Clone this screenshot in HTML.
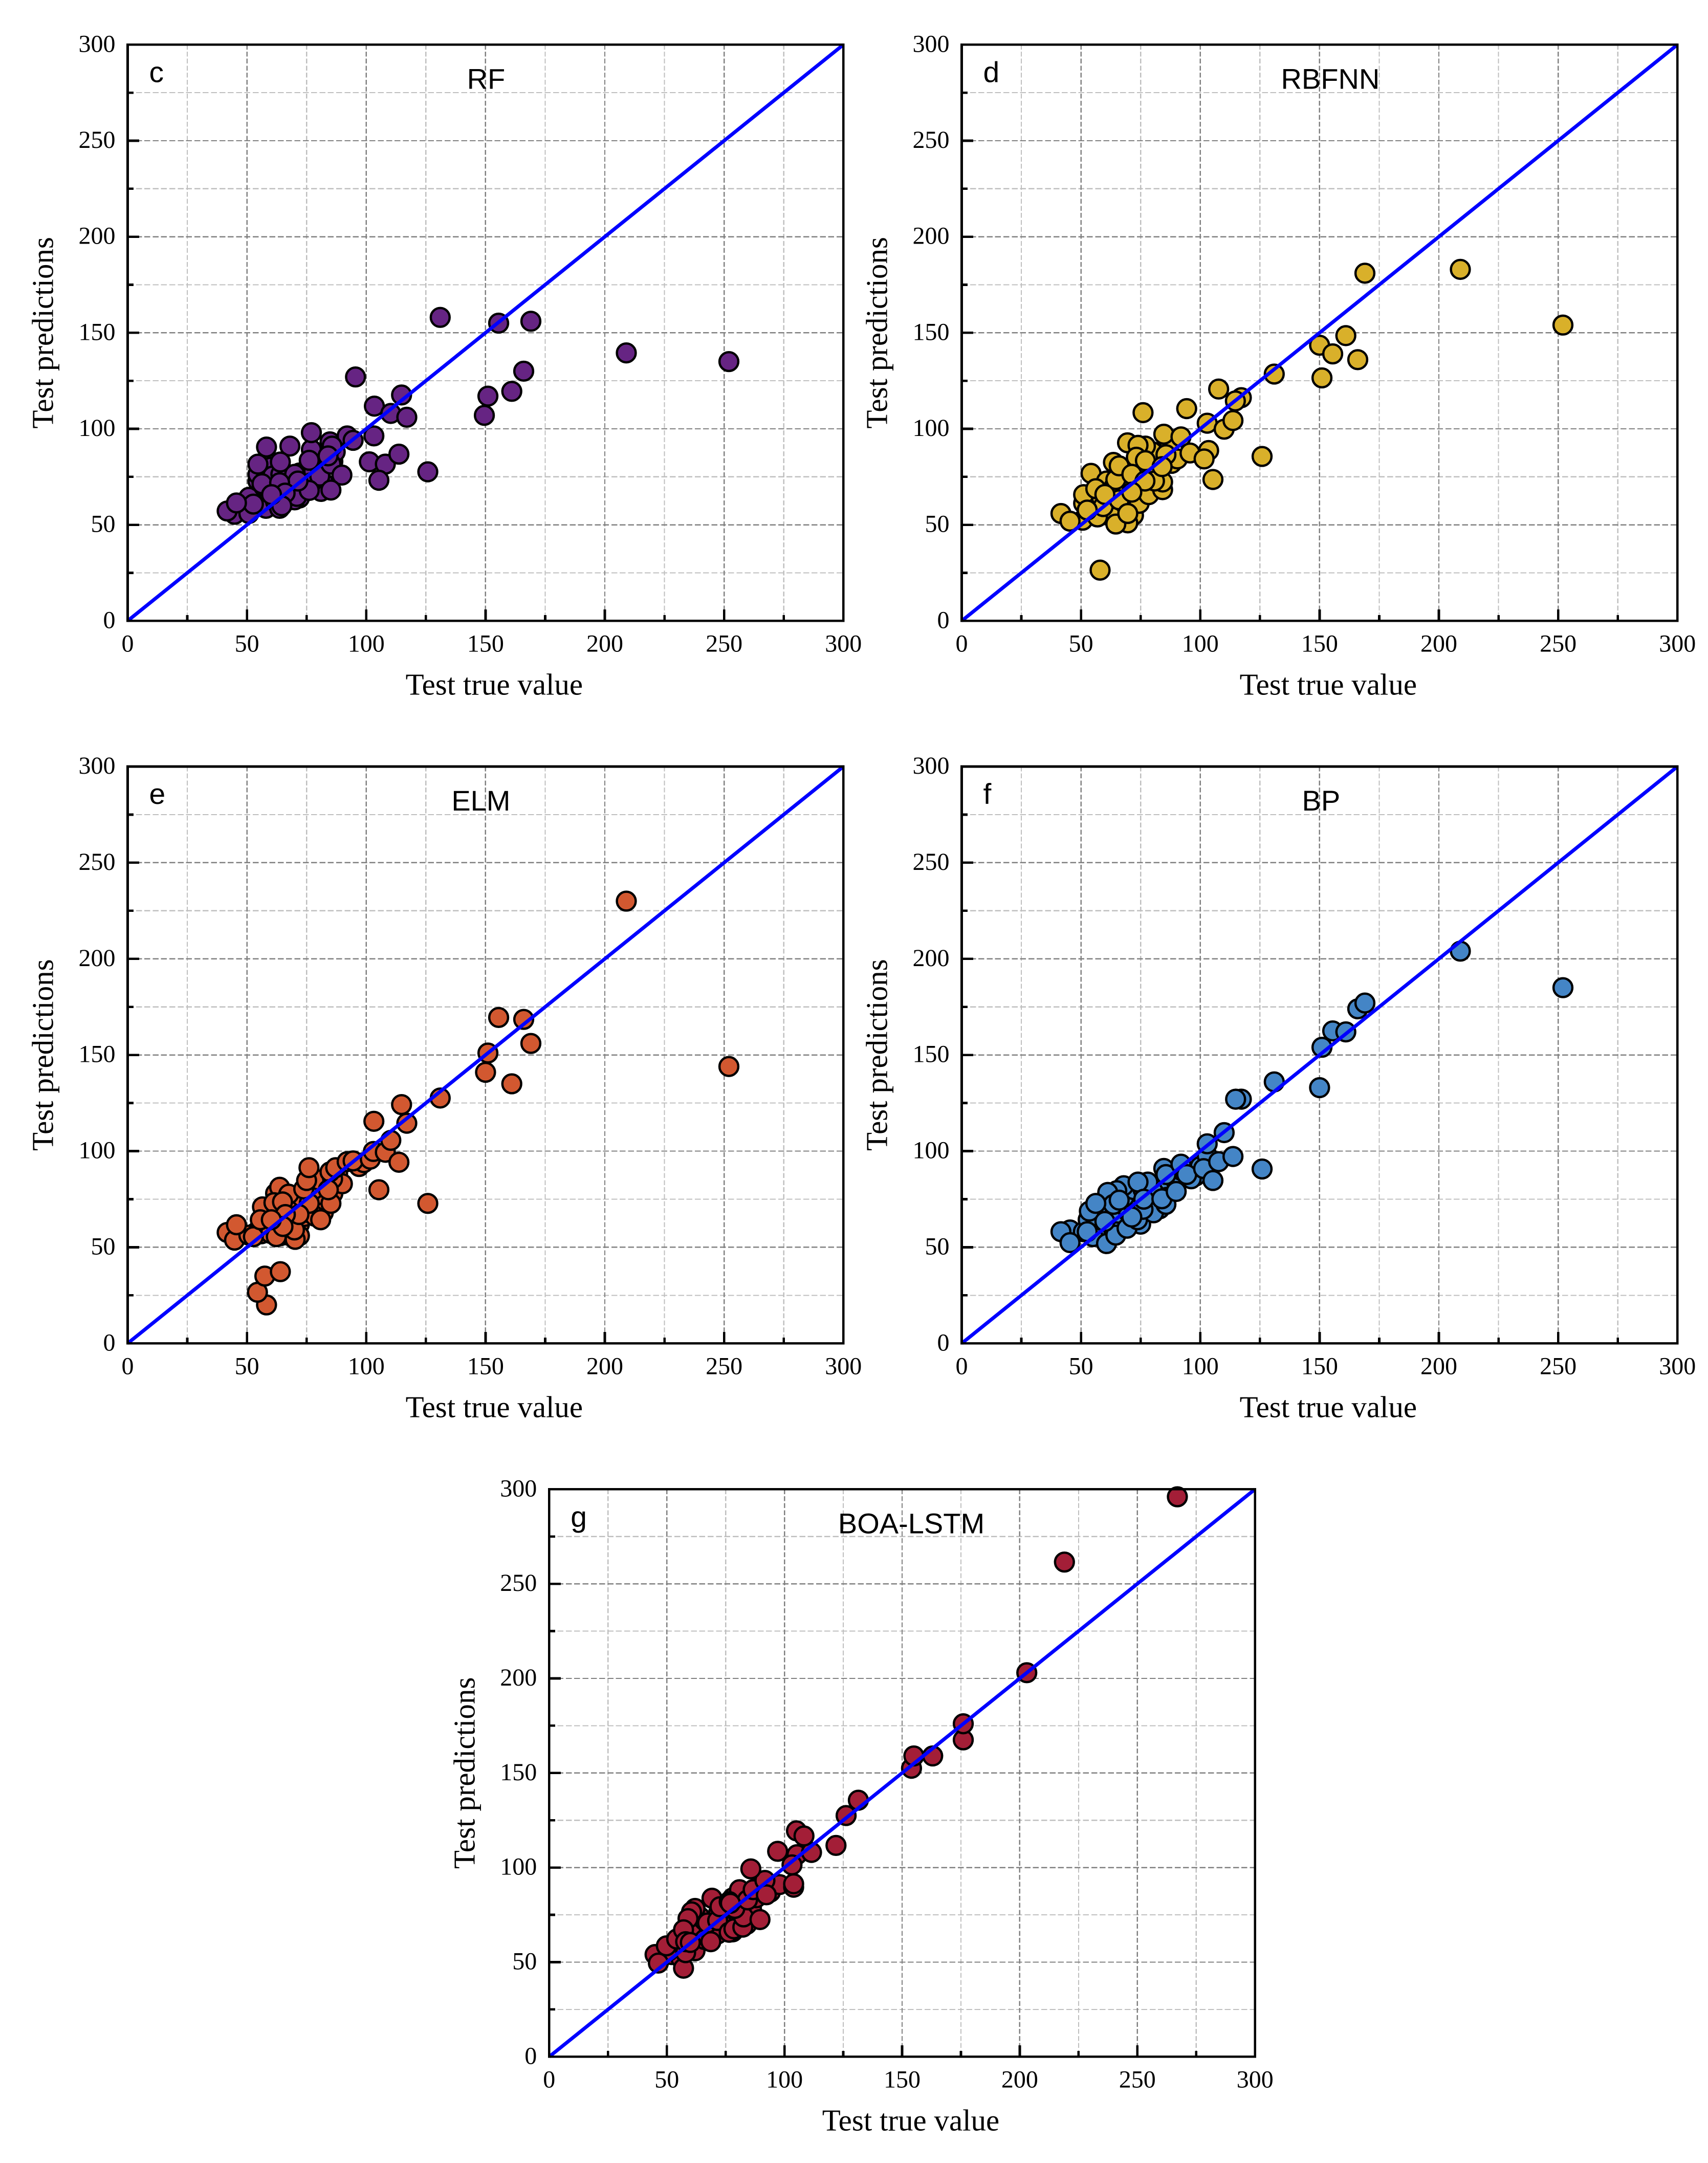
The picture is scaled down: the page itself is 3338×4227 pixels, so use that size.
<!DOCTYPE html>
<html lang="en">
<head>
<meta charset="utf-8">
<title>Test predictions vs true value</title>
<style>
html,body{margin:0;padding:0;background:#fff}
svg{display:block;position:absolute;left:0;top:0}
.num,.axt{font-family:"Liberation Serif",serif;fill:#000}
.num{font-size:48px}
.axt{font-size:59px}
.lbl{font-family:"Liberation Sans",sans-serif;fill:#000;font-size:56px}
.ltr{font-family:"Liberation Sans",sans-serif;fill:#000;font-size:57px}
</style>
</head>
<body>
<svg id="figure" xmlns="http://www.w3.org/2000/svg" width="3338" height="4227" viewBox="0 0 3338 4227">
<rect x="0" y="0" width="3338" height="4227" fill="#fff"/>
</svg>
<script>
const majorTicks = [0, 50, 100, 150, 200, 250, 300];
const minorTicks = [25, 75, 125, 175, 225, 275];
const identityLine = [0, 300];

const rfPoints = [[60,62],[62,66],[65,72],[68,64],[72,64],[74,70],[72,77],[66,76],[62,74],[58,66],[56,62],[53,65],[76,74],[79,70],[82,72],[86,83],[82,80],[80,84],[87,88],[80,79],[57,76],[60,80],[65,69],[44.8,55.5],[41.7,57.2],[50.8,55.9],[50.8,64.3],[58,58.6],[54.6,72.8],[54.6,76.3],[54.6,81.6],[57,70],[60,68],[62,62],[66,62],[68,70],[72,68],[74,74],[78,78],[70,63],[70.9,64.8],[63.7,58.6],[60.8,75.4],[64.2,76.3],[67,71],[70,76.3],[81,67.4],[77,71.9],[80.5,75.4],[76.1,67.9],[85.2,81.6],[84.8,93.2],[77,89.2],[92,96.3],[58.2,90.5],[68,91],[64,82.7],[85.7,91],[84,85.9],[76.1,83.6],[77,98],[94.5,94],[89.8,75.9],[85.2,68.1],[71.4,72.8],[56.3,71.4],[63.7,71.9],[66,66.5],[64.6,59.9],[60.3,65.7],[52.7,60.8],[45.6,61.4],[103.2,96.3],[101.3,82.8],[108,81.6],[105.3,73.2],[113.7,86.8],[125.8,77.6],[103.4,111.8],[110.3,108],[114.8,117.6],[117,106],[95.5,127],[131,158],[155.5,155],[169,156],[166,130],[161,119.5],[151,117],[149.5,107],[209,139.5],[252,135]];

const rbfnnPoints = [[55,60],[57,63],[60,60],[62,58],[64,62],[67,60],[70,62],[72,64],[75,65],[78,70],[80,78],[75,78],[70,72],[66,76],[62,68],[68,72],[82,76],[88,82],[86,90],[80,88],[74,87],[68,79],[60,56],[53,55],[63,54],[72,55],[41.6,55.9],[50.7,52.4],[51.1,61.2],[51.1,65.7],[56.9,54.1],[59.3,59.5],[45.4,51.9],[52.6,57.7],[54.2,76.8],[69.6,51],[74.4,61.2],[60.7,72.8],[64,70.1],[66,63],[64.6,73.6],[63.6,82.5],[66,80.7],[69.5,92.7],[77,91],[73.9,91.4],[76,108.4],[73.2,85.2],[71.3,76.3],[78.4,65.7],[84.2,68.3],[84.2,72.3],[80.8,72.8],[76.8,72.8],[71.3,67],[77,83.4],[90.4,84.3],[87,93.2],[84.7,97.2],[91.9,95.8],[95.7,87.4],[85.6,86.5],[84,80.3],[64.6,50.4],[69.6,55.9],[56.2,68.8],[60,65.8],[94.3,110.5],[103.5,88.7],[101.6,84.3],[105.3,73.6],[125.9,85.6],[102.9,102.9],[110,99.8],[113.7,104.3],[117.2,116.2],[114.7,114.5],[107.7,120.7],[58,26.4],[131,128.5],[150,143.5],[151,126.5],[155.5,139],[161,148.5],[166,136],[169,181],[209,183],[252,154]];

const elmPoints = [[56,57],[60,60],[63,62],[66,58],[68,63],[72,62],[74,66],[76,68],[78,74],[80,72],[82,68],[70,72],[66,72],[62,68],[58,62],[54,58],[64,56],[68,56],[71,74],[73,76],[78,80],[82,84],[86,78],[88,88],[72,56],[62,78],[60,70],[80,85],[97,92],[99,94],[41.7,57.7],[44.8,53.7],[50.8,56.3],[56.5,71],[59.9,57.2],[62.3,55.5],[70.2,54.1],[69.9,59],[63.7,81.2],[67.5,77.6],[61.3,73.2],[64.9,73.6],[78.5,66.1],[80.9,64.3],[76.1,72.8],[85.2,72.8],[73.8,80.3],[75,84.7],[76,91.4],[90,83],[85.9,85.6],[84.8,89.2],[87.2,91.4],[84.1,79.9],[92,94.5],[94.5,94.9],[52.7,55.5],[55.6,64.3],[71.8,67],[66.1,67],[65.1,60.8],[60.2,64.3],[45.6,61.7],[101.7,95.8],[103,99.8],[108,99.4],[113.7,94.2],[110.3,105.6],[105.3,79.9],[125.8,72.8],[103.2,115.5],[117,114.5],[114.8,124.2],[131,127.6],[58.2,20],[54.4,26.6],[57.5,35],[64,37.3],[150,141],[151,151],[155.5,169.5],[161,135],[166,168.5],[169,156],[209,230],[252,144]];

const bpPoints = [[56,62],[58,66],[62,60],[64,64],[66,68],[68,62],[70,68],[72,72],[74,74],[78,70],[80,74],[82,78],[68,76],[64,76],[60,72],[57,68],[72,80],[76,80],[80,82],[87,84],[90,84],[92,90],[83,70],[86,76],[75,62],[65,58],[60,56],[56,58],[98,87],[100,92],[45.4,59],[51,58.1],[55,55.5],[60.7,51.9],[64.6,56.3],[53,64.3],[53.5,68.8],[41.6,58.1],[45.4,52.4],[52.6,58.1],[69.3,59.9],[73.7,64.3],[80.4,67.9],[76,69.7],[85.6,72.3],[78,83.9],[67.9,82],[65,79.4],[61.2,78.5],[63.6,72.3],[66,74.5],[73.9,83.9],[56.2,72.8],[60,63.4],[71.3,65.7],[76.3,75],[83.9,75.2],[89.9,79],[96.2,85.6],[84.7,91],[85.6,87.8],[91.9,93.2],[94.3,87.8],[102.9,97.6],[101.4,90.9],[107.7,94.5],[113.7,97.2],[105.3,84.7],[125.9,90.7],[102.9,103.8],[110,109.6],[117.2,127],[114.8,127],[131,136],[150,133],[151,154],[155.5,162.5],[161,162],[166,174],[169,177],[209,204],[252,185]];

const lstmPoints = [[52,54],[55,58],[58,64],[60,68],[62,62],[64,68],[66,72],[68,66],[70,68],[72,68],[74,70],[76,74],[78,72],[80,76],[64,74],[60,58],[56,52],[62,56],[72,76],[74,78],[78,84],[82,84],[84,76],[86,78],[84,70],[88,84],[90,90],[94,87],[66,62],[70,64],[78,66],[45,54],[50.8,55.9],[49.8,58.6],[57.1,46.8],[54.2,62.2],[58,55],[62,78.4],[60.5,76.6],[59,73],[57.1,67.1],[58,60.8],[46.4,49.5],[60,60.4],[71.6,64.9],[67.3,70.7],[71.6,72],[76.5,65.8],[78.5,67.6],[82.3,68.5],[82.6,73.9],[89.6,72.5],[68.7,60.8],[69.2,83.8],[72.6,79.3],[78.9,78.4],[80.9,88.3],[84.3,82.9],[86.7,88.3],[94.5,91],[97.9,91],[91.7,93.2],[92.3,85.6],[85.7,99.3],[76.5,82],[77,81.1],[103.9,89.6],[103.9,91.4],[105.3,106.8],[111.5,108],[103.2,101.4],[97.1,108.6],[105.1,119.4],[108.3,116.7],[121.9,111.7],[126.2,127.5],[131.4,135.6],[154,152.5],[155,159],[163,159],[176,167.5],[176,176],[203,203],[219,261.5],[267,296]];

const panelLayouts = [
  {key:'rf', title:'RF', letter:'c', points:rfPoints, fill:'#662483', x0:249.5, x1:1648.3, y0:1213.3, y1:87.3, titleDx:1},
  {key:'rbfnn', title:'RBFNN', letter:'d', points:rbfnnPoints, fill:'#d9b02a', x0:1879.5, x1:3278.3, y0:1213.3, y1:87.3, titleDx:21},
  {key:'elm', title:'ELM', letter:'e', points:elmPoints, fill:'#d25830', x0:249.5, x1:1648.3, y0:2625.3, y1:1498, titleDx:-9},
  {key:'bp', title:'BP', letter:'f', points:bpPoints, fill:'#4485c6', x0:1879.5, x1:3278.3, y0:2625.3, y1:1498, titleDx:3},
  {key:'boa-lstm', title:'BOA-LSTM', letter:'g', points:lstmPoints, fill:'#a31e37', x0:1073.3, x1:2452.7, y0:4019.3, y1:2910.3, titleDx:18}
];

const svgNS = 'http://www.w3.org/2000/svg';
const figure = document.getElementById('figure');

function make(tag, attrs, parent, text) {
  const el = document.createElementNS(svgNS, tag);
  for (const k in attrs) { el.setAttribute(k, attrs[k]); }
  if (text !== undefined) { el.textContent = text; }
  parent.appendChild(el);
  return el;
}

panelLayouts.forEach(function (p) {
  const sx = function (v) { return p.x0 + (p.x1 - p.x0) * v / 300; };
  const sy = function (v) { return p.y0 - (p.y0 - p.y1) * v / 300; };
  const g = make('g', {}, figure);
  
  

  minorTicks.forEach(function (v) {
    const gx = make('line', {x1:sx(v), x2:sx(v), y1:p.y1, y2:p.y0, stroke:'#bfbfbf', 'stroke-width':2.2, 'stroke-dasharray':'9.5 4.2', 'shape-rendering':'crispEdges'}, g);
    
    
    const gy = make('line', {x1:p.x0, x2:p.x1, y1:sy(v), y2:sy(v), stroke:'#bfbfbf', 'stroke-width':2.2, 'stroke-dasharray':'11.5 4.8', 'shape-rendering':'crispEdges'}, g);
    
    
  });

  majorTicks.forEach(function (v) {
    if (v > 0 && v < 300) {
      const gx = make('line', {x1:sx(v), x2:sx(v), y1:p.y1, y2:p.y0, stroke:'#808080', 'stroke-width':2.4, 'stroke-dasharray':'9.5 4.2', 'shape-rendering':'crispEdges'}, g);
      
      
      const gy = make('line', {x1:p.x0, x2:p.x1, y1:sy(v), y2:sy(v), stroke:'#808080', 'stroke-width':2.4, 'stroke-dasharray':'11.5 4.8', 'shape-rendering':'crispEdges'}, g);
      
      
    }
  });

  minorTicks.forEach(function (v) {
    const tx = make('line', {x1:sx(v), x2:sx(v), y1:p.y0, y2:p.y0 - 11.5, stroke:'#000', 'stroke-width':4.7, 'shape-rendering':'crispEdges'}, g);
    
    
    const ty = make('line', {x1:p.x0, x2:p.x0 + 11.5, y1:sy(v), y2:sy(v), stroke:'#000', 'stroke-width':4.7, 'shape-rendering':'crispEdges'}, g);
    
    
  });

  majorTicks.forEach(function (v) {
    if (v > 0 && v < 300) {
      const tx = make('line', {x1:sx(v), x2:sx(v), y1:p.y0, y2:p.y0 - 22.5, stroke:'#000', 'stroke-width':4.7, 'shape-rendering':'crispEdges'}, g);
      
      
      const ty = make('line', {x1:p.x0, x2:p.x0 + 22.5, y1:sy(v), y2:sy(v), stroke:'#000', 'stroke-width':4.7, 'shape-rendering':'crispEdges'}, g);
      
      
    }
    const lx = make('text', {class:'num', x:sx(v), y:p.y0 + 60, 'text-anchor':'middle'}, g, String(v));
    
    
    const ly = make('text', {class:'num', x:p.x0 - 24, y:sy(v) + 14, 'text-anchor':'end'}, g, String(v));
    
    
  });

  p.points.forEach(function (pt) {
    const c = make('circle', {cx:sx(pt[0]), cy:sy(pt[1]), r:18.4, fill:p.fill, stroke:'#000', 'stroke-width':4.5}, g);
    
    
  });

  const diag = make('line', {x1:sx(identityLine[0]), y1:sy(identityLine[0]), x2:sx(identityLine[1]), y2:sy(identityLine[1]), stroke:'#0000ff', 'stroke-width':7}, g);
  
  

  const frame = make('rect', {x:p.x0, y:p.y1, width:p.x1 - p.x0, height:p.y0 - p.y1, fill:'none', stroke:'#000', 'stroke-width':4.8, 'shape-rendering':'crispEdges'}, g);
  
  

  const title = make('text', {class:'lbl', x:(p.x0 + p.x1) / 2 + p.titleDx, y:p.y1 + 86, 'text-anchor':'middle'}, g, p.title);
  
  

  const letter = make('text', {class:'ltr', x:p.x0 + 42, y:p.y1 + 73}, g, p.letter);
  
  

  const xt = make('text', {class:'axt', x:(p.x0 + p.x1) / 2 + 17, y:p.y0 + 144, 'text-anchor':'middle'}, g, 'Test true value');
  
  

  const yMid = (p.y0 + p.y1) / 2;
  const yBase = p.x0 - 146;
  const yt = make('text', {class:'axt', x:yBase, y:yMid, 'text-anchor':'middle', transform:'rotate(-90 ' + yBase + ' ' + yMid + ')'}, g, 'Test predictions');
  
  
});
</script>
</body>
</html>
